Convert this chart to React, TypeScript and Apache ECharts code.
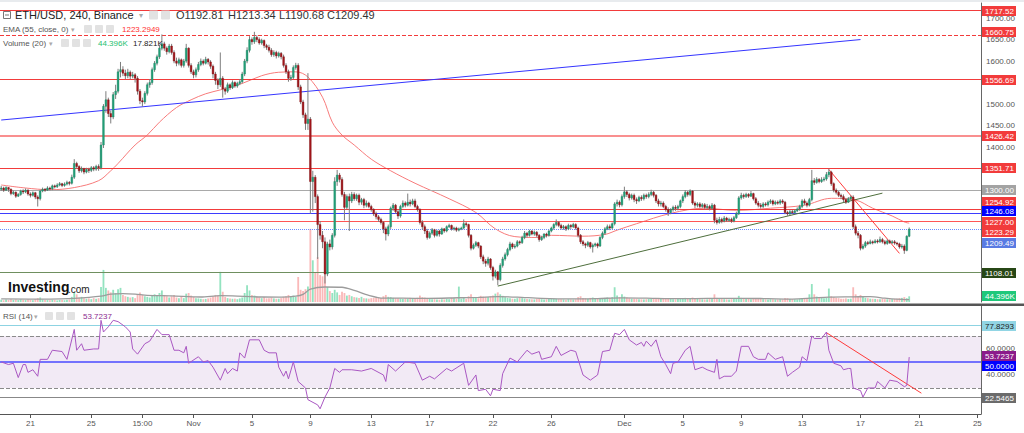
import React, { useEffect, useRef } from "react";
import * as echarts from "echarts";

// ---------- DATA ----------
const FIRST_OPEN = 1302;
const CLOSES = [
  1305,1300,1306,1302,1292,1295,1286,1290,1298,1296,
  1300,1291,1288,1294,1284,1280,1298,1302,1300,1305,
  1303,1310,1308,1312,1315,1311,1314,1318,1316,1330,
  1362,1355,1345,1350,1342,1348,1346,1352,1349,1355,
  1352,1405,1495,1510,1478,1470,1522,1530,1575,1580,
  1572,1566,1574,1565,1568,1560,1530,1508,1505,1525,
  1545,1550,1580,1595,1610,1630,1640,1630,1622,1635,
  1620,1600,1595,1603,1590,1600,1630,1590,1575,1568,
  1580,1592,1600,1595,1604,1598,1588,1570,1555,1545,
  1560,1535,1530,1545,1538,1550,1542,1548,1552,1570,
  1600,1625,1650,1645,1655,1650,1642,1648,1636,1632,
  1625,1615,1620,1612,1618,1610,1590,1575,1560,1562,
  1585,1590,1540,1505,1475,1455,1465,1320,1330,1285,
  1220,1195,1180,1105,1175,1168,1195,1320,1335,1325,
  1290,1260,1285,1275,1290,1280,1288,1272,1278,1265,
  1270,1262,1255,1245,1238,1232,1225,1210,1198,1215,
  1258,1265,1250,1240,1262,1270,1265,1272,1268,1275,
  1262,1255,1225,1215,1205,1190,1200,1208,1195,1205,
  1198,1210,1205,1215,1218,1210,1212,1207,1210,1212,
  1222,1220,1195,1165,1172,1178,1170,1145,1135,1130,
  1140,1120,1100,1110,1092,1125,1140,1150,1162,1175,
  1168,1170,1180,1178,1190,1200,1195,1205,1198,1202,
  1195,1185,1190,1198,1195,1205,1212,1220,1225,1218,
  1212,1215,1210,1218,1215,1220,1212,1195,1180,1175,
  1172,1178,1168,1172,1175,1170,1190,1200,1210,1215,
  1212,1222,1268,1272,1266,1285,1296,1290,1282,1288,
  1278,1275,1283,1280,1288,1285,1290,1295,1288,1275,
  1268,1270,1262,1255,1248,1255,1260,1258,1262,1275,
  1285,1295,1290,1298,1270,1265,1268,1262,1266,1260,
  1262,1258,1265,1230,1225,1232,1228,1235,1230,1232,
  1228,1236,1245,1282,1288,1285,1290,1286,1292,1280,
  1270,1265,1262,1268,1266,1272,1275,1268,1272,1270,
  1275,1272,1248,1245,1250,1248,1252,1256,1262,1275,
  1270,1265,1278,1322,1318,1325,1320,1324,1326,1336,
  1342,1315,1300,1295,1288,1285,1278,1272,1280,1284,
  1215,1200,1195,1165,1170,1178,1176,1180,1178,1182,
  1180,1185,1180,1176,1182,1178,1180,1177,1175,1168,
  1170,1160,1192.81,1209.49,
];
const HIGHS = [
  1310,1308,1309,1307,1304,1299,1297,1293,1301,1302,
  1304,1302,1295,1297,1296,1288,1301,1306,1305,1309,
  1308,1313,1313,1316,1319,1317,1318,1322,1321,1336,
  1372,1366,1358,1355,1352,1352,1352,1356,1356,1359,
  1360,1412,1500,1530,1515,1485,1528,1545,1582,1598,
  1588,1580,1582,1578,1575,1572,1565,1535,1515,1530,
  1550,1558,1585,1600,1615,1638,1662,1645,1634,1640,
  1640,1625,1608,1608,1606,1605,1640,1632,1595,1580,
  1585,1598,1606,1604,1610,1607,1602,1592,1575,1560,
  1620,1565,1540,1550,1548,1555,1553,1552,1558,1575,
  1605,1632,1658,1655,1668,1660,1655,1652,1650,1640,
  1638,1630,1625,1624,1622,1621,1615,1595,1580,1568,
  1590,1596,1595,1545,1510,1480,1572,1470,1345,1335,
  1290,1228,1205,1190,1180,1185,1200,1330,1347,1340,
  1330,1296,1290,1292,1296,1295,1292,1292,1282,1282,
  1276,1273,1266,1258,1250,1242,1236,1228,1215,1220,
  1262,1270,1268,1254,1266,1276,1274,1292,1278,1280,
  1280,1266,1258,1230,1220,1210,1204,1212,1210,1208,
  1208,1213,1212,1218,1222,1220,1215,1215,1213,1215,
  1232,1226,1222,1198,1176,1182,1180,1172,1150,1140,
  1145,1142,1124,1115,1112,1130,1145,1155,1166,1180,
  1178,1175,1184,1183,1194,1205,1203,1208,1207,1206,
  1205,1198,1194,1200,1201,1208,1215,1223,1232,1228,
  1222,1219,1218,1222,1221,1224,1223,1215,1198,1184,
  1178,1182,1180,1176,1178,1178,1193,1204,1214,1220,
  1220,1225,1272,1278,1276,1290,1308,1300,1294,1292,
  1292,1283,1287,1288,1292,1292,1295,1301,1298,1291,
  1280,1275,1274,1266,1260,1258,1264,1265,1266,1278,
  1290,1300,1298,1302,1300,1274,1272,1272,1270,1270,
  1268,1266,1270,1268,1236,1238,1236,1240,1238,1236,
  1236,1240,1250,1286,1294,1292,1294,1293,1298,1294,
  1284,1275,1270,1272,1272,1276,1279,1278,1276,1276,
  1279,1279,1275,1252,1255,1254,1256,1260,1266,1279,
  1280,1274,1282,1347,1328,1330,1328,1330,1331,1342,
  1350,1345,1318,1304,1298,1292,1290,1282,1284,1288,
  1288,1220,1205,1198,1175,1182,1182,1185,1183,1186,
  1186,1192,1189,1184,1186,1185,1184,1184,1180,1178,
  1175,1174,1195,1213.34,
];
const LOWS = [
  1298,1296,1298,1296,1288,1289,1282,1284,1287,1291,
  1293,1287,1283,1285,1279,1262,1276,1295,1296,1298,
  1299,1300,1304,1305,1309,1307,1308,1311,1311,1313,
  1326,1350,1340,1341,1337,1339,1340,1342,1344,1345,
  1345,1348,1398,1480,1470,1455,1465,1512,1525,1562,
  1565,1558,1560,1558,1560,1550,1522,1500,1494,1500,
  1520,1538,1545,1575,1590,1605,1625,1624,1615,1618,
  1615,1595,1588,1590,1585,1585,1596,1585,1570,1560,
  1562,1575,1588,1590,1592,1592,1582,1560,1545,1535,
  1540,1515,1522,1526,1533,1535,1538,1538,1544,1548,
  1565,1595,1620,1638,1640,1644,1638,1638,1630,1626,
  1620,1610,1610,1606,1608,1604,1585,1570,1552,1554,
  1558,1580,1533,1500,1468,1440,1440,1245,1250,1270,
  1140,1185,1165,1083,1100,1160,1162,1190,1310,1318,
  1285,1230,1255,1205,1270,1275,1275,1265,1266,1258,
  1260,1258,1250,1240,1232,1226,1220,1200,1183,1193,
  1210,1252,1245,1233,1236,1258,1260,1262,1262,1265,
  1258,1250,1220,1208,1198,1185,1187,1196,1190,1192,
  1192,1196,1201,1202,1212,1206,1206,1203,1204,1207,
  1209,1215,1190,1160,1162,1168,1165,1140,1128,1122,
  1125,1115,1090,1095,1079,1088,1120,1136,1146,1158,
  1163,1164,1167,1173,1175,1186,1190,1192,1195,1194,
  1190,1180,1182,1186,1190,1192,1202,1208,1216,1214,
  1208,1208,1205,1207,1210,1212,1208,1190,1175,1170,
  1165,1168,1164,1155,1168,1165,1168,1186,1196,1207,
  1207,1209,1218,1262,1260,1262,1280,1284,1276,1278,
  1272,1268,1272,1275,1276,1280,1281,1286,1283,1270,
  1262,1262,1258,1250,1240,1244,1250,1252,1253,1258,
  1270,1281,1285,1286,1266,1258,1260,1258,1258,1255,
  1255,1253,1255,1223,1220,1222,1223,1225,1226,1226,
  1224,1225,1233,1242,1278,1280,1282,1282,1284,1276,
  1266,1260,1257,1258,1262,1262,1268,1264,1265,1266,
  1266,1268,1244,1240,1242,1244,1245,1249,1252,1258,
  1265,1260,1262,1274,1312,1315,1316,1317,1320,1322,
  1330,1310,1295,1290,1284,1279,1272,1268,1270,1276,
  1210,1195,1188,1160,1162,1166,1172,1174,1174,1176,
  1176,1177,1176,1172,1173,1175,1175,1173,1171,1164,
  1164,1152,1158,1190.68,
];
// volume, thousands
const VOLUMES_K = [
  18,14,20,15,22,16,19,15,21,17,
  15,20,17,14,22,30,35,19,16,15,
  14,17,15,12,16,15,14,17,20,40,
  75,60,35,40,30,25,28,22,30,25,
  30,117,250,110,90,75,95,70,100,110,
  55,45,40,35,38,30,60,75,55,45,
  40,35,55,60,50,70,90,55,45,35,
  45,55,35,30,40,30,65,70,50,40,
  30,28,25,22,24,28,35,45,55,50,
  235,80,40,30,28,25,26,22,28,35,
  70,130,90,55,50,40,35,30,38,28,
  30,35,28,25,26,30,40,45,55,42,
  50,40,195,95,85,100,120,570,325,230,
  350,210,200,250,117,85,70,95,75,55,
  80,70,50,55,45,38,35,32,40,30,
  28,26,30,32,38,35,32,45,55,40,
  38,32,30,30,27,24,28,26,32,30,
  30,33,50,38,35,32,24,22,22,20,
  18,21,20,24,22,32,30,24,120,26,
  32,24,45,60,38,32,30,48,42,40,
  38,45,50,65,75,60,48,38,32,30,
  26,25,30,32,30,26,24,22,21,20,
  24,26,22,20,21,24,30,26,25,22,
  21,20,18,22,20,19,21,38,45,32,
  30,26,32,35,25,24,30,26,32,35,
  32,38,115,50,38,60,42,35,30,26,
  25,24,22,21,20,22,24,26,25,30,
  32,26,24,25,30,24,22,21,24,26,
  30,32,26,25,35,26,24,22,21,20,
  21,24,26,60,32,26,24,22,21,20,
  22,24,26,48,32,30,25,24,22,26,
  30,25,24,22,21,20,22,21,20,19,
  21,20,32,30,24,22,21,20,24,30,
  25,32,60,140,60,42,38,32,30,32,
  105,45,38,32,30,26,25,28,24,26,
  115,60,45,55,38,32,30,26,25,24,
  22,21,24,22,21,20,22,24,25,30,
  32,38,30,44.396,
];
const VOLUME_MA_K = [
  [0,24],[20,22],[30,28],[41,45],[45,62],[50,66],[55,62],[60,52],[70,48],[82,39],
  [90,50],[95,48],[107,39],[115,38],[121,45],[124,60],[127,100],[133,117],[140,115],[145,91],
  [151,52],[157,30],[165,30],[175,28],[188,33],[196,36],[204,42],[212,38],[222,28],[235,24],
  [245,27],[255,32],[265,30],[275,26],[285,27],[295,28],[305,29],[315,26],[325,23],[333,30],
  [340,38],[350,40],[357,42],[363,30],[368,22],[373,17.821],
];
const EMA55 = [
  [0,1312],[10,1305],[20,1301],[30,1306],[40,1322],[45,1345],[48,1362],[55,1405],[60,1428],[65,1458],
  [72,1492],[78,1510],[84,1524],[90,1533],[99,1548],[107,1566],[114,1574],[121,1575],[126,1563],[132,1516],
  [136,1458],[140,1428],[145,1405],[152,1372],[160,1345],[170,1316],[184,1280],[195,1248],[203,1210],[211,1192],
  [220,1190],[226,1195],[239,1193],[248,1197],[253,1207],[261,1222],[275,1246],[289,1258],[302,1253],[316,1258],
  [330,1265],[341,1281],[351,1277],[358,1258],[366,1240],[371,1226],[373,1223.2949],
];
const RSI14 = [
  [0,50],[3,48],[5,49],[7,38],[9,48],[10,48],[11,42],[13,44],[15,39],[16,52],[19,52],[21,59],[25,58],[27,52],
  [30,75],[31,59],[33,64],[34,59],[38,60],[40,60],[41,82],[42,73],[44,77],[46,82],[48,81],[51,77],[53,73],
  [54,60],[56,56],[59,64],[61,66],[64,75],[66,71],[69,71],[71,59],[73,59],[75,57],[76,62],[77,49],[81,54],
  [83,50],[85,51],[87,46],[90,36],[92,45],[93,41],[95,45],[97,43],[98,57],[100,53],[102,67],[106,67],[108,59],
  [110,57],[113,57],[114,46],[116,39],[117,43],[118,37],[120,50],[122,35],[125,30],[126,21],[130,17],[131,14],
  [133,23],[135,30],[137,45],[139,42],[140,44],[144,44],[148,43],[152,45],[157,40],[158,35],[159,48],[162,43],
  [166,50],[170,49],[173,36],[176,39],[178,37],[183,45],[185,43],[190,49],[192,32],[195,40],[196,28],[199,29],
  [201,24],[202,29],[205,28],[206,41],[209,53],[212,50],[216,59],[218,56],[221,58],[222,52],[226,54],[228,62],
  [230,55],[234,59],[236,58],[239,40],[242,36],[245,40],[247,58],[250,59],[252,72],[254,71],[256,75],[258,67],
  [261,63],[263,65],[264,62],[265,66],[267,62],[269,67],[271,54],[273,48],[275,41],[276,49],[278,50],[281,59],
  [283,62],[285,44],[288,46],[290,44],[293,42],[294,52],[295,37],[297,39],[300,39],[302,43],[304,62],[307,62],
  [309,54],[311,52],[314,52],[315,57],[318,52],[321,54],[323,39],[325,42],[328,46],[329,54],[331,51],[333,70],
  [334,68],[337,68],[339,73],[340,59],[342,49],[345,47],[346,44],[348,45],[349,45],[350,30],[353,28],[354,23],
  [356,30],[359,30],[360,35],[363,30],[365,36],[368,35],[371,31],[372,32],[373,53.7237],
];
const PRICE_LEVELS = [1717.52, 1660.75, 1556.69, 1426.42, 1351.71, 1300.0, 1254.92, 1246.08, 1227.0, 1108.01];
const RSI_LEVELS = [77.8293, 70, 50, 30, 22.5465];
const RSI_BAND = [30, 70];
const TREND_BLUE = [[0, 1463], [353, 1650]];
const TREND_GREEN = [[204, 1077], [362, 1293]];
const TREND_RED = [[340, 1348], [369, 1153]];
const RSI_TREND = [[339, 72.5], [378, 26]];
const CATEGORY_COUNT = 403; // Oct 19 00:00 .. Dec 25 00:00 every 4h
const X_TICK_INDEX = [12, 37, 58, 79, 103, 127, 152, 176, 202, 226, 256, 280, 304, 329, 353, 377, 401];
const X_TICK_LABELS = ["21", "25", "15:00", "Nov", "5", "9", "13", "17", "22", "26", "Dec", "5", "9", "13", "17", "21", "25"];
const PRICE_AXIS_LABELS = [1700, 1650, 1600, 1500, 1450, 1400];
const RSI_AXIS_LABELS = [60, 40];

// ---------- STYLES ----------
const FONT = '"Liberation Sans", Arial, sans-serif';
const RED = "#f23b3b";
const LEVEL_STYLE: Record<string, any> = {
  "1717.52": { color: RED, type: "solid", tag: RED },
  "1660.75": { color: RED, type: "dashed", tag: RED, dy: -3 },
  "1556.69": { color: RED, type: "solid", tag: RED },
  "1426.42": { color: "#f76a6a", type: "solid", tag: RED, width: 1.5 },
  "1351.71": { color: RED, type: "solid", tag: RED },
  "1300.00": { color: "#a9a9a9", type: "solid", tag: "#a3a3a3" },
  "1254.92": { color: RED, type: "solid", tag: RED, dy: -8 },
  "1246.08": { color: "#3d3dff", type: "solid", tag: "#0000ff", dy: -2 },
  "1227.00": { color: "#f55", type: "solid", tag: RED },
  "1108.01": { color: "#6f8f5f", type: "solid", tag: "#274716" },
};

const CATEGORIES = Array.from({ length: CATEGORY_COUNT }, (_, i) =>
  new Date(Date.UTC(2020, 9, 19) + i * 4 * 3600e3).toISOString().slice(5, 16)
);

export default function App() {
  const ref = useRef<HTMLDivElement>(null);

  useEffect(() => {
    if (!ref.current) return;
    const chart = echarts.init(ref.current, undefined, { renderer: "svg" });

    const opens = CLOSES.map((_, i) => (i === 0 ? FIRST_OPEN : CLOSES[i - 1]));
    const candles = CLOSES.map((c, i) => [i, opens[i], c, LOWS[i], HIGHS[i]]);
    const last = CLOSES.length - 1;
    const lastClose = CLOSES[last];
    const emaLast = EMA55[EMA55.length - 1][1];
    const volLast = VOLUMES_K[VOLUMES_K.length - 1];
    const volMaLast = VOLUME_MA_K[VOLUME_MA_K.length - 1][1];
    const rsiLast = RSI14[RSI14.length - 1][1];

    const renderCandle = (params: any, api: any) => {
      const i = api.value(0);
      const o = api.value(1), c = api.value(2), l = api.value(3), h = api.value(4);
      const pO = api.coord([i, o]);
      const pC = api.coord([i, c]);
      const pL = api.coord([i, l]);
      const pH = api.coord([i, h]);
      const band = api.size([1, 0])[0];
      const w = Math.max(1, band * 0.72);
      const x = pO[0];
      const top = Math.min(pO[1], pC[1]);
      const bh = Math.max(1, Math.abs(pO[1] - pC[1]));
      const up = c >= o;
      return {
        type: "group",
        children: [
          { type: "line", shape: { x1: x, y1: pH[1], x2: x, y2: pL[1] }, style: { stroke: "#7d7d7d", lineWidth: 1 } },
          {
            type: "rect",
            shape: { x: x - w / 2, y: top, width: w, height: bh },
            style: { fill: up ? "#22a27a" : "#a3161b", stroke: up ? "#17805e" : "#7d0f12", lineWidth: 0.4 },
          },
        ],
      };
    };

    const trend = (pts: number[][], color: string) => [
      { coord: pts[0], lineStyle: { color, width: 1, type: "solid" } },
      { coord: pts[1] },
    ];

    const priceMarkLines = [
      ...PRICE_LEVELS.map((v) => {
        const s = LEVEL_STYLE[v.toFixed(2)];
        return { yAxis: v, lineStyle: { color: s.color, type: s.type, width: s.width || 1 } };
      }),
      { yAxis: lastClose, lineStyle: { color: "#6c8cff", type: "dotted", width: 1 } },
      trend(TREND_BLUE, "#3535ff"),
      trend(TREND_GREEN, "#4e6e3c"),
      trend(TREND_RED, "#ff3a3a"),
    ];

    const rsiStyle: Record<string, any> = {
      "77.8293": { color: "#8dd3e2", type: "solid", width: 1 },
      "70": { color: "#8a8a8a", type: "dashed", width: 1 },
      "50": { color: "#4a4aff", type: "solid", width: 1.5 },
      "30": { color: "#8a8a8a", type: "dashed", width: 1 },
      "22.5465": { color: "#888", type: "solid", width: 1 },
    };

    const option: any = {
      animation: false,
      backgroundColor: "#ffffff",
      textStyle: { fontFamily: FONT },
      grid: [
        { left: 0, right: 43, top: 3, height: 299 },
        { left: 0, right: 43, top: 3, height: 299 },
        { left: 0, right: 43, top: 306, height: 108 },
      ],
      xAxis: [
        { type: "category", gridIndex: 0, data: CATEGORIES, show: false },
        { type: "category", gridIndex: 1, data: CATEGORIES, show: false },
        {
          type: "category",
          gridIndex: 2,
          data: CATEGORIES,
          axisLine: { show: true, lineStyle: { color: "#555", width: 1 } },
          axisTick: {
            show: true,
            alignWithLabel: true,
            length: 4,
            interval: (idx: number) => X_TICK_INDEX.includes(idx),
            lineStyle: { color: "#555" },
          },
          axisLabel: {
            interval: (idx: number) => X_TICK_INDEX.includes(idx),
            formatter: (_v: string, idx: number) => {
              const k = X_TICK_INDEX.indexOf(idx);
              return k >= 0 ? X_TICK_LABELS[k] : "";
            },
            color: "#555",
            fontSize: 8,
            margin: 5,
            fontFamily: FONT,
          },
          splitLine: { show: false },
        },
      ],
      yAxis: [
        {
          type: "value",
          gridIndex: 0,
          position: "right",
          min: 1040,
          max: 1735,
          interval: 10,
          axisLine: { show: true, lineStyle: { color: "#666" } },
          axisTick: { show: false },
          splitLine: { show: false },
          axisLabel: {
            formatter: (v: number) => (PRICE_AXIS_LABELS.includes(Math.round(v)) ? Math.round(v).toFixed(2) : ""),
            color: "#555",
            fontSize: 8,
            margin: 5,
            fontFamily: FONT,
          },
        },
        { type: "value", gridIndex: 1, min: 0, max: 2330, show: false },
        {
          type: "value",
          gridIndex: 2,
          position: "right",
          min: 10,
          max: 93,
          interval: 10,
          axisLine: { show: true, lineStyle: { color: "#666" } },
          axisTick: { show: false },
          splitLine: { show: false },
          axisLabel: {
            formatter: (v: number) => (RSI_AXIS_LABELS.includes(Math.round(v)) ? Math.round(v).toFixed(4) : ""),
            color: "#555",
            fontSize: 8,
            margin: 5,
            fontFamily: FONT,
          },
        },
      ],
      series: [
        {
          type: "bar",
          xAxisIndex: 1,
          yAxisIndex: 1,
          barCategoryGap: "25%",
          silent: true,
          z: 1,
          data: VOLUMES_K.map((v, i) => ({
            value: v,
            itemStyle: { color: CLOSES[i] >= opens[i] ? "rgba(40,200,130,0.5)" : "rgba(245,100,100,0.45)" },
          })),
        },
        {
          type: "line",
          xAxisIndex: 1,
          yAxisIndex: 1,
          data: VOLUME_MA_K,
          symbol: "none",
          smooth: 0.3,
          silent: true,
          z: 2,
          lineStyle: { color: "#9c9c9c", width: 1.3 },
        },
        {
          type: "line",
          xAxisIndex: 0,
          yAxisIndex: 0,
          data: EMA55,
          symbol: "none",
          smooth: 0.35,
          silent: true,
          z: 3,
          lineStyle: { color: "#f77b7b", width: 1 },
          markLine: {
            silent: true,
            symbol: ["none", "none"],
            label: { show: false },
            emphasis: { disabled: true },
            data: priceMarkLines,
          },
        },
        {
          type: "custom",
          xAxisIndex: 0,
          yAxisIndex: 0,
          data: candles,
          encode: { x: 0, y: [1, 2, 3, 4] },
          renderItem: renderCandle,
          silent: true,
          z: 10,
        },
        {
          type: "line",
          xAxisIndex: 2,
          yAxisIndex: 2,
          data: RSI14,
          symbol: "none",
          silent: true,
          z: 5,
          lineStyle: { color: "#a957c2", width: 1 },
          markArea: {
            silent: true,
            itemStyle: { color: "rgba(150,80,175,0.12)" },
            data: [[{ yAxis: RSI_BAND[0] }, { yAxis: RSI_BAND[1] }]],
          },
          markLine: {
            silent: true,
            symbol: ["none", "none"],
            label: { show: false },
            emphasis: { disabled: true },
            data: [
              ...RSI_LEVELS.map((v) => ({ yAxis: v, lineStyle: rsiStyle[String(v)] })),
              trend(RSI_TREND, "#ff3a3a"),
            ],
          },
        },
      ],
    };

    chart.setOption(option);

    // ---------- right-hand value tags (positioned through the axes) ----------
    const tags: any[] = [];
    const addTag = (axis: number, value: number, text: string, bg: string, fg: string, dy = 0) => {
      const y = Math.round((chart.convertToPixel({ yAxisIndex: axis }, value) as number) + dy);
      tags.push({
        type: "rect",
        z: 100,
        shape: { x: 982, y: y - 5, width: 34, height: 10 },
        style: { fill: bg },
      });
      tags.push({
        type: "text",
        z: 101,
        x: 985,
        y: y,
        style: {
          text,
          fill: fg,
          font: `8px ${FONT}`,
          align: "left",
          textAlign: "left",
          verticalAlign: "middle",
          textVerticalAlign: "middle",
        },
      });
    };
    PRICE_LEVELS.forEach((v) => {
      const s = LEVEL_STYLE[v.toFixed(2)];
      addTag(0, v, v.toFixed(2), s.tag, "#fff", s.dy || 0);
    });
    addTag(0, emaLast, emaLast.toFixed(2), RED, "#fff", 9);
    addTag(0, lastClose, lastClose.toFixed(2), "#5a7be3", "#fff", 14);
    addTag(1, volLast, volLast.toFixed(3) + "K", "#1fc87a", "#fff", 0);
    addTag(2, RSI_LEVELS[0], RSI_LEVELS[0].toFixed(4), "#91d5e4", "#222", 0);
    addTag(2, rsiLast, rsiLast.toFixed(4), "#8b1b8b", "#fff", -1);
    addTag(2, RSI_LEVELS[2], RSI_LEVELS[2].toFixed(4), "#0000ff", "#fff", 4);
    addTag(2, RSI_LEVELS[4], RSI_LEVELS[4].toFixed(4), "#6b6b6b", "#fff", 0);

    const txt = (x: number, y: number, text: string, fill: string, size: number, weight = "normal") => ({
      type: "text",
      z: 50,
      x,
      y,
      style: {
        text,
        fill,
        font: `${weight} ${size}px ${FONT}`,
        align: "left",
        textAlign: "left",
        verticalAlign: "middle",
        textVerticalAlign: "middle",
      },
    });
    const icon = (x: number, y: number, s: number) => ({
      type: "rect",
      z: 50,
      shape: { x, y: y - s / 2, width: s, height: s, r: 1 },
      style: { fill: "#e2e2e2" },
    });

    const o = opens[last], h = HIGHS[last], l = LOWS[last];
    const header: any[] = [
      { type: "rect", z: 40, shape: { x: 0, y: 0, width: 1024, height: 2 }, style: { fill: "#e8ebee" } },
      { type: "rect", z: 40, shape: { x: 0, y: 303.5, width: 1024, height: 2.5 }, style: { fill: "#555" } },
      { type: "rect", z: 50, shape: { x: 3.5, y: 11.5, width: 7, height: 7 }, style: { fill: "none", stroke: "#777", lineWidth: 1 } },
      { type: "line", z: 50, shape: { x1: 5, y1: 15, x2: 9, y2: 15 }, style: { stroke: "#777", lineWidth: 1 } },
      txt(15, 15, "ETH/USD, 240, Binance", "#222", 11),
      txt(139, 15, "▾", "#aaa", 8),
      icon(149, 15, 9),
      icon(161, 15, 9),
      txt(176, 15, "O" + o.toFixed(2), "#333", 11),
      txt(228, 15, "H" + h.toFixed(2), "#333", 11),
      txt(279, 15, "L" + l.toFixed(2), "#333", 11),
      txt(327, 15, "C" + lastClose.toFixed(2), "#333", 11),
      txt(3, 29, "EMA (55, close, 0)", "#555", 8),
      txt(71, 29, "▾", "#aaa", 7),
      icon(84, 29, 8),
      icon(95, 29, 8),
      icon(106, 29, 8),
      txt(122, 29, emaLast.toFixed(4), "#ff3030", 8),
      txt(3, 43, "Volume (20)", "#555", 8),
      txt(49, 43, "▾", "#aaa", 7),
      icon(61, 43, 8),
      icon(72, 43, 8),
      icon(83, 43, 8),
      txt(98, 43, volLast.toFixed(3) + "K", "#1fc06f", 8),
      txt(133, 43, volMaLast.toFixed(3) + "K", "#222", 8),
      txt(3, 316, "RSI (14)", "#555", 8),
      txt(34, 316, "▾", "#aaa", 7),
      icon(45, 316, 8),
      icon(56, 316, 8),
      icon(67, 316, 8),
      txt(83, 316, rsiLast.toFixed(4), "#8b2a8f", 8),
      txt(8, 287, "Investing", "#111", 14, "bold"),
      txt(68, 289, ".com", "#222", 10),
    ];

    chart.setOption({ graphic: { elements: [...header, ...tags] } });

    return () => chart.dispose();
  }, []);

  return <div ref={ref} style={{ position: "fixed", left: 0, top: 0, width: 1024, height: 433 }} />;
}
